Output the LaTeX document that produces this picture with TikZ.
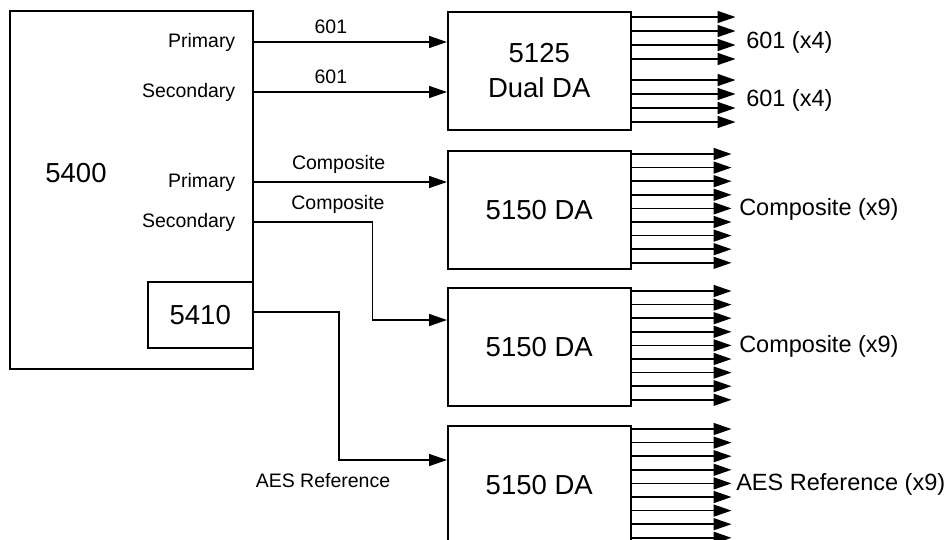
\documentclass[tikz,border=0pt]{standalone}
\usepackage{fontspec}
\setmainfont{Liberation Sans}
\usetikzlibrary{arrows.meta, positioning, calc}

\begin{document}
\begin{tikzpicture}[
  x=1pt, y=-1pt,
  line width=1.5pt,
  big/.style={font=\fontsize{27.5}{35}\selectfont},
  box/.style={draw, big, anchor=north west, minimum width=183pt, minimum height=118pt, align=center, inner sep=0pt},
  port/.style={anchor=east, inner sep=2pt, font=\fontsize{19.5}{23}\selectfont},
  wire/.style={inner sep=2pt, font=\fontsize{19.5}{23}\selectfont},
  outlbl/.style={anchor=west, inner sep=0pt, font=\fontsize{23.5}{28}\selectfont},
  arrow/.style={-{Triangle[length=18pt, width=12pt]}},
]
\clip (0,0) rectangle (949,539);

% Source unit
\node[draw, anchor=north west, minimum width=243pt, minimum height=358pt, inner sep=0pt] (main) at (9,10) {};
\node[big] (mainlbl) at (76,173) {5400};
\node[box, minimum width=105pt, minimum height=66pt] (ref) at (147,281) {5410};

% Output ports
\node[port] (pri1) at (238,42) {Primary};
\node[port] (sec1) at (238,92) {Secondary};
\node[port] (pri2) at (238,182) {Primary};
\node[port] (sec2) at (238,222) {Secondary};

% Distribution amplifiers
\node[box] (dual) at (447,11) {5125\\Dual DA};
\node[box] (da1) at (447,150) {5150 DA};
\node[box] (da2) at (447,287) {5150 DA};
\node[box] (da3) at (447,425) {5150 DA};

% Feeds
\draw[arrow] (main.east |- pri1) -- node[wire, above=6pt, pos=0.4] (w1) {601} (dual.west |- pri1);
\draw[arrow] (main.east |- sec1) -- node[wire, above=6pt, pos=0.4] (w2) {601} (dual.west |- sec1);
\draw[arrow] (main.east |- pri2) -- node[wire, above=6pt, pos=0.44] (w3) {Composite} (da1.west |- pri2);
\draw[arrow] (main.east |- sec2) -- node[wire, above=6pt, pos=0.71] (w4) {Composite} ++(119,0)
  |- ($(da2.north west)+(0,33)$);
\draw[arrow] ([yshift=3pt]ref.east) -| ($(da3.north west)+(-108,35)$) -- ($(da3.north west)+(0,35)$);
\node[wire] (aeslbl) at (323,481) {AES Reference};

% Outputs
\foreach \y in {6,20,34,48,69,83,97,111}
  \draw[arrow] ($(dual.north east)+(0,\y)$) -- ++(104,0);
\foreach \n in {da1,da2,da3}
  \foreach \i in {0,...,8}
    \draw[arrow] ($(\n.north east)+(0,4+13.6*\i)$) -- ++(100,0);

\node[outlbl] (out1) at ($(dual.north east)+(114,31)$) {601 (x4)};
\node[outlbl] (out2) at ($(dual.north east)+(114,89)$) {601 (x4)};
\node[outlbl] (out3) at ($(da1.east)+(107,0)$) {Composite (x9)};
\node[outlbl] (out4) at ($(da2.east)+(107,0)$) {Composite (x9)};
\node[outlbl] (out5) at ($(da3.east)+(104,0)$) {AES Reference (x9)};
\end{tikzpicture}
\end{document}
